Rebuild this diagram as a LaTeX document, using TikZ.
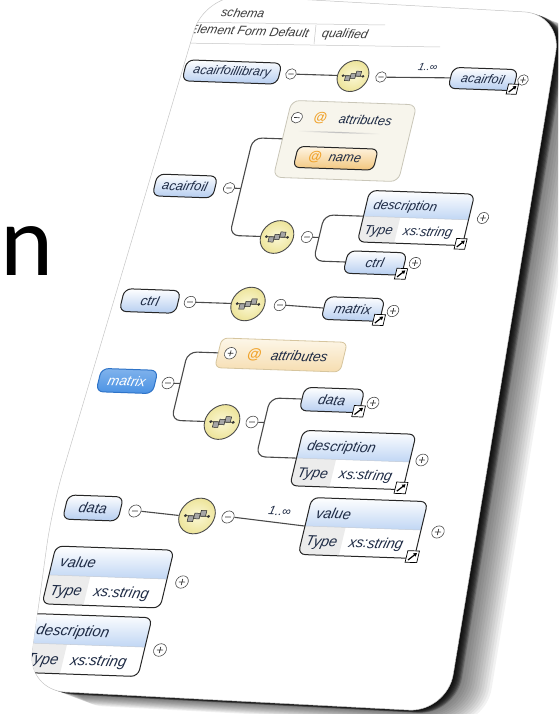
\documentclass[tikz,border=0pt]{standalone}
\usepackage{fontspec}
\setmainfont{Liberation Sans}
\newfontfamily\bigfont{Carlito}
\usetikzlibrary{arrows.meta}

\definecolor{elblue}{HTML}{B5CDF0}
\definecolor{hdrblue}{HTML}{C0D6F4}
\definecolor{typegray}{HTML}{ECECEC}
\definecolor{txt}{HTML}{1E2B45}
\definecolor{lncol}{HTML}{4A4A4A}
\definecolor{seqin}{HTML}{FBF8D6}
\definecolor{seqout}{HTML}{EDE49A}
\definecolor{attrbg}{HTML}{F7F5EC}
\definecolor{attrbd}{HTML}{C9C6B8}
\definecolor{namet}{HTML}{FFF6E4}
\definecolor{nameb}{HTML}{F2C57C}
\definecolor{atopc}{HTML}{FDF7E9}
\definecolor{abotc}{HTML}{F6DDB0}
\definecolor{abord}{HTML}{D6C59E}
\definecolor{atcol}{HTML}{F0A22A}
\definecolor{selfill}{HTML}{4A92E4}
\definecolor{seldraw}{HTML}{2F74C8}
\definecolor{hdrtxt}{HTML}{3A3A3A}

\tikzset{
  sk/.style={cm={1,-0.035,0.24,1,(0,0)},scale=#1},
  lbl/.style={font=\fontsize{12.5}{14}\selectfont\itshape, text=txt, inner sep=0pt},
  elbox/.style={draw=black!85, line width=1pt, rounded corners=7pt, top color=white,
    bottom color=elblue, minimum height=21pt, inner sep=0pt, lbl},
  pmc/.style={circle, draw=black!70, fill=white, line width=0.6pt, minimum size=10.5pt, inner sep=0pt},
  pms/.style={line width=0.7pt, draw=black!80},
  seqring/.style={circle, draw=black!70, line width=0.9pt, inner color=seqin, outer color=seqout,
    minimum size=31pt, inner sep=0pt},
  attxt/.style={font=\fontsize{13}{13}\selectfont\bfseries, text=atcol, inner sep=0pt},
  hdr/.style={font=\fontsize{12.5}{14}\selectfont\itshape, text=hdrtxt, inner sep=0pt},
  conn/.style={draw=lncol, line width=1.1pt},
  brk/.style={conn, rounded corners=9pt},
}

% simple element box
\newcommand\elem[7][]{%
  \begin{scope}[shift={(#3,#4)}, sk=#5]
    \node[elbox, transform shape, minimum width=#6pt, #1] (#2) at (0,0) {#7};
  \end{scope}}
% collapse / expand buttons
\newcommand\minusc[4]{%
  \begin{scope}[shift={(#2,#3)}, sk=#4]
    \node[pmc, transform shape] (#1) at (0,0) {};
    \draw[pms] (-2.6,0) -- (2.6,0);
  \end{scope}}
\newcommand\plusc[4]{%
  \begin{scope}[shift={(#2,#3)}, sk=#4]
    \node[pmc, transform shape] (#1) at (0,0) {};
    \draw[pms] (-2.6,0) -- (2.6,0) (0,-2.6) -- (0,2.6);
  \end{scope}}
% sequence compositor
\newcommand\seqnode[4]{%
  \begin{scope}[shift={(#2,#3)}, sk=#4]
    \node[seqring, transform shape] (#1) at (0,0) {};
    \draw[line width=0.7pt, black!80] (-10,0) -- (10,0);
    \fill[black!80] (-10,0) circle (1.4) (10,0) circle (1.4);
    \foreach \a/\b in {-5/2.5,0/0,5/-2.5}
      \draw[fill=black!35, draw=black!85, line width=0.5pt] (\a-2.4,\b-2.4) rectangle (\a+2.4,\b+2.4);
  \end{scope}}
% reference marker
\newcommand\lnkdraw{%
  \draw[fill=white, draw=black, line width=0.7pt] (-5,-5) rectangle (5,5);
  \draw[line width=1.2pt, -{Triangle[length=3.4pt,width=3.8pt]}] (-3,3) -- (3.3,-3.3);}
\newcommand\lnk[2]{%
  \begin{scope}[shift={#1}, shift={(-1,-2)}, sk=#2]
    \lnkdraw
  \end{scope}}
% complex element box with type row
\newcommand\cbox[6]{%
  \begin{scope}[shift={(#2,#3)}, sk=#4]
    \begin{scope}
      \clip[rounded corners=7pt] (-50,-24.5) rectangle (50,24.5);
      \shade[top color=white, bottom color=hdrblue] (-50,-24.5) rectangle (50,0);
      \fill[typegray] (-50,0) rectangle (-15,24.5);
      \draw[hdrblue!70!black!50, line width=0.5pt] (-50,0) -- (50,0);
    \end{scope}
    \draw[draw=black!85, line width=1pt, rounded corners=7pt] (-50,-24.5) rectangle (50,24.5);
    \node[lbl, transform shape, anchor=base west] (#1t) at (-43,-7) {#5};
    \node[lbl, transform shape, anchor=base west] (#1k) at (-46,17) {Type};
    \node[lbl, transform shape, anchor=base west] (#1v) at (-9,17) {xs:string};
    \node[transform shape, minimum width=100pt, minimum height=49pt, inner sep=0pt] (#1) at (0,0) {};
    \ifnum#6=1 \begin{scope}[shift={(48,23)}]\lnkdraw\end{scope}\fi
  \end{scope}}

\def\cardpath{(205,-6) -- (562,14) -- (447,712) -- (27,690) -- (52,508) -- (117,290) -- cycle}

\begin{document}
\begin{tikzpicture}[x=1pt,y=-1pt]
  \useasboundingbox (0,0) rectangle (558,714);
  \clip (0,0) rectangle (558,714);

  % big letter on the slide
  \node[anchor=base west, inner sep=0pt, font=\bigfont\fontsize{101}{101}\selectfont] (bign) at (0,275) {n};

  % card shadow
  \foreach \i in {1,...,16}{
    \fill[black, opacity=0.05, rounded corners=38pt, shift={(2.4*\i,0.9*\i)}] \cardpath;}
  \foreach \i in {1,...,8}{
    \fill[black, opacity=0.22, rounded corners=38pt, shift={(1.1*\i,0.35*\i)}] \cardpath;}
  % card
  \fill[white, rounded corners=38pt] \cardpath;
  \draw[gray!45, line width=0.5pt, rounded corners=38pt] \cardpath;

  \begin{scope}
    \clip[rounded corners=38pt] \cardpath;

    % schema header table
    \draw[gray!45, line width=0.5pt] (180,22) -- (385,25);
    \draw[gray!45, line width=0.5pt] (180,43) -- (440,47);
    \draw[gray!45, line width=0.5pt] (316,25) -- (314,44);
    \begin{scope}[shift={(243,13)}, sk=0.98]
      \node[hdr, transform shape] (hschema) at (0,0) {schema};
    \end{scope}
    \begin{scope}[shift={(309,33)}, sk=0.98]
      \node[hdr, transform shape, anchor=east] (hform) at (0,0) {Element Form Default};
    \end{scope}
    \begin{scope}[shift={(322,34)}, sk=0.98]
      \node[hdr, transform shape, anchor=west] (hqual) at (0,0) {qualified};
    \end{scope}

    % acairfoillibrary
    \elem{n1}{232}{72}{1.0}{95}{acairfoillibrary}
    \minusc{m1}{291}{74}{1.0}
    \seqnode{q1}{353}{76}{1.0}
    \minusc{mq1}{381}{77}{1.0}
    \begin{scope}[shift={(428,67)}, sk=1.0]
      \node[lbl, transform shape, font=\fontsize{10.5}{12}\selectfont\itshape] (c1) at (0,0) {1..∞};
    \end{scope}
    \elem{n2}{483}{79}{1.0}{65}{acairfoil}
    \lnk{(n2.south east)}{1.0}
    \plusc{p1}{523}{80}{1.0}

    % acairfoil
    \elem{n3}{185}{186}{1.04}{58}{acairfoil}
    \minusc{m3}{229}{188}{1.04}
    \begin{scope}[shift={(345,141)}, sk=1.025]
      \draw[fill=attrbg, draw=attrbd, line width=0.8pt, rounded corners=8pt] (-61,-37.5) rectangle (61,37.5);
      \node[inner sep=0pt, minimum width=122pt, minimum height=75pt, transform shape] (a1) at (0,0) {};
      \node[pmc, transform shape] (a1m) at (-52,-21) {};
      \draw[pms] (-54.6,-21) -- (-49.4,-21);
      \node[attxt, transform shape] (a1at) at (-29,-21) {@};
      \node[lbl, transform shape, anchor=west] (a1t) at (-11,-21) {attributes};
      \shade[left color=attrbg, right color=attrbg, middle color=black!25] (-48,-8.6) rectangle (32,-7.4);
      \draw[top color=namet, bottom color=nameb, draw=black!85, line width=1pt, rounded corners=6pt]
        (-44,6.75) rectangle (34,27.25);
      \node[attxt, transform shape] (a1nat) at (-25,17) {@};
      \node[lbl, transform shape] (a1n) at (4,17) {name};
    \end{scope}
    \seqnode{q2}{277}{237}{1.055}
    \minusc{mq2}{307}{237}{1.055}
    \cbox{d1}{416}{218}{1.05}{description}{1}
    \plusc{p2}{483}{218}{1.05}
    \elem{n4}{375}{263}{1.066}{55}{ctrl}
    \lnk{(n4.south east)}{1.066}
    \plusc{p3}{415}{263}{1.066}

    % ctrl
    \elem{n5}{150}{301}{1.08}{52}{ctrl}
    \minusc{m5}{190}{302}{1.08}
    \seqnode{q3}{248}{304}{1.08}
    \minusc{mq3}{280}{305}{1.08}
    \elem{n6}{353}{309}{1.08}{54}{matrix}
    \lnk{(n6.south east)}{1.08}
    \plusc{p6}{393}{311}{1.08}

    % matrix
    \elem[draw=seldraw, top color=selfill!70, bottom color=selfill, text=white]{n7}{127}{381}{1.107}{51}{matrix}
    \minusc{m7}{168}{383}{1.107}
    \begin{scope}[shift={(281,355)}, sk=1.1]
      \draw[top color=atopc, bottom color=abotc, draw=abord, line width=0.8pt, rounded corners=6pt]
        (-57,-13.5) rectangle (57,13.5);
      \node[inner sep=0pt, minimum width=114pt, minimum height=27pt, transform shape] (a2) at (0,0) {};
      \node[pmc, transform shape] (a2p) at (-46,0) {};
      \draw[pms] (-48.6,0) -- (-43.4,0) (-46,-2.6) -- (-46,2.6);
      \node[attxt, transform shape] (a2at) at (-24,0.5) {@};
      \node[lbl, transform shape, anchor=west] (a2t) at (-9,0.5) {attributes};
    \end{scope}
    \seqnode{q4}{222}{422}{1.12}
    \minusc{mq4}{252}{422}{1.12}
    \elem{n8}{332}{400}{1.11}{54}{data}
    \lnk{(n8.south east)}{1.11}
    \plusc{p8}{373}{403}{1.11}
    \cbox{d2}{353}{460}{1.13}{description}{1}
    \plusc{p9}{422}{460}{1.13}

    % data
    \elem{n9}{93}{508}{1.15}{48}{data}
    \minusc{m9}{135}{511}{1.15}
    \seqnode{q5}{197}{516}{1.15}
    \minusc{mq5}{228}{517}{1.15}
    \begin{scope}[shift={(280,511)}, sk=1.15]
      \node[lbl, transform shape, font=\fontsize{10.5}{12}\selectfont\itshape] (c2) at (0,0) {1..∞};
    \end{scope}
    \cbox{v1}{363}{528}{1.16}{value}{1}
    \plusc{p10}{438}{532}{1.16}

    % value, description
    \cbox{v2}{108}{577}{1.18}{value}{0}
    \plusc{p11}{182}{582}{1.18}
    \cbox{d3}{85}{645}{1.2}{description}{0}
    \plusc{p12}{160}{650}{1.2}

    % connectors
    \begin{scope}[cm={1,-0.035,0.24,1,(0,0)}]
      \draw[conn] (m1.east) -- (q1.west);
      \draw[conn] (mq1.east) -- (n2.west);
      \draw[conn] (m3.east) -- ++(6,0) coordinate (j3);
      \draw[brk] (j3) |- (a1.west);
      \draw[brk] (j3) |- (q2.west);
      \draw[conn] (mq2.east) -- ++(6,0) coordinate (j4);
      \draw[brk] (j4) |- (d1.west);
      \draw[brk] (j4) |- (n4.west);
      \draw[conn] (m5.east) -- (q3.west);
      \draw[conn] (mq3.east) -- (n6.west);
      \draw[conn] (m7.east) -- ++(6,0) coordinate (j7);
      \draw[brk] (j7) |- (a2.west);
      \draw[brk] (j7) |- (q4.west);
      \draw[conn] (mq4.east) -- ++(6,0) coordinate (j8);
      \draw[brk] (j8) |- (n8.west);
      \draw[brk] (j8) |- (d2.west);
      \draw[conn] (m9.east) -- (q5.west);
      \draw[conn] (mq5.east) -- (v1.west);
    \end{scope}
  \end{scope}
\end{tikzpicture}
\end{document}
